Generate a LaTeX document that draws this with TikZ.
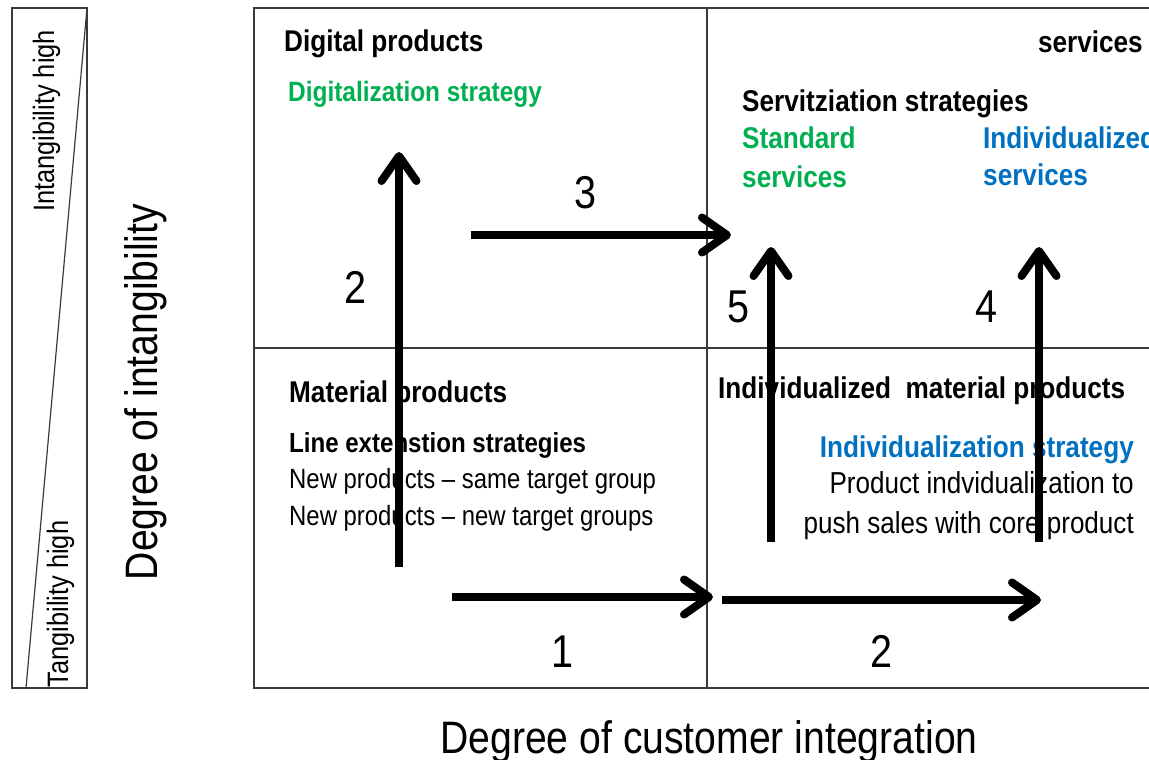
\documentclass[tikz,border=0pt]{standalone}
\usepackage{fontspec}
\setmainfont[FakeStretch=0.86, BoldFeatures={FakeStretch=0.872}]{Liberation Sans}
\usetikzlibrary{arrows.meta}
\definecolor{stratgreen}{HTML}{00B050}
\definecolor{stratblue}{HTML}{0070C0}
\definecolor{framecol}{HTML}{3A3A3A}
\tikzset{
  lbl/.style={inner sep=0pt, anchor=base west},
  lble/.style={inner sep=0pt, anchor=base east},
  head/.style={font=\fontsize{30}{36}\selectfont\bfseries},
  headsm/.style={font=\fontsize{27.6}{33}\selectfont\bfseries},
  bodysm/.style={font=\fontsize{27.8}{33}\selectfont},
  bodyla/.style={font=\fontsize{30.3}{36}\selectfont},
  num/.style={inner sep=0pt, anchor=base, font=\fontsize{46}{50}\selectfont},
  axis/.style={inner sep=0pt, anchor=base, font=\fontsize{45.5}{50}\selectfont},
  barlbl/.style={inner sep=0pt, anchor=base, rotate=90, font=\fontsize{29.5}{34}\selectfont},
  frameline/.style={draw=framecol, line width=1.5pt},
  flow/.style={line width=8pt, -{Straight Barb[length=25pt, width=35pt, line cap=round, line join=round]}}
}
\begin{document}
\begin{tikzpicture}[x=1pt, y=-1pt]
\useasboundingbox (0,0) rectangle (1149,760);
% left bar
\draw[frameline] (12,8) rectangle (87,688);
\coordinate (diagtop) at (87,8);
\coordinate (diagbot) at (26,688);
\draw[frameline, line width=1.2pt] (diagtop) -- (diagbot);
\node[barlbl] (inthigh) at (54,121) {Intangibility high};
\node[barlbl] (tanhigh) at (68,604) {Tangibility high};
% axis titles
\node[axis, rotate=90] (yaxis) at (157,392) {Degree of intangibility};
\node[axis] (xaxis) at (709,753) {Degree of customer integration};
% matrix frame
\draw[frameline] (1149,8) -- (254,8) -- (254,688) -- (1149,688);
\draw[frameline] (707,8) -- (707,688);
\draw[frameline] (254,348) -- (1149,348);
% top-left quadrant
\node[lbl, head] (digprod) at (284,52) {Digital products};
\node[lbl, font=\fontsize{28}{33}\selectfont\bfseries, text=stratgreen] (digstrat) at (288,101) {Digitalization strategy};
% top-right quadrant
\node[lble, head] (serv) at (1143,53) {services};
\node[lbl, head] (servstrat) at (742,111) {Servitziation strategies};
\node[lbl, head, text=stratgreen] (std1) at (742,148) {Standard};
\node[lbl, head, text=stratgreen] (std2) at (742,187) {services};
\node[lbl, head, text=stratblue] (ind1) at (983,148) {Individualized};
\node[lbl, head, text=stratblue] (ind2) at (983,185) {services};
% bottom-left quadrant
\node[lbl, head] (matprod) at (289,402) {Material products};
\node[lbl, headsm] (linext) at (289,452) {Line extenstion strategies};
\node[lbl, bodysm] (np1) at (289,488) {New products – same target group};
\node[lbl, bodysm] (np2) at (289,525) {New products – new target groups};
% bottom-right quadrant
\node[lbl, head] (indmat) at (718,398) {Individualized\ \ material products};
\node[lble, head, text=stratblue] (indstrat) at (1134,457) {Individualization strategy};
\node[lble, bodyla] (pi1) at (1134,493) {Product indvidualization to};
\node[lble, bodyla] (pi2) at (1134,533) {push sales with core product};
% arrows
\coordinate (u2s) at (399,567); \coordinate (u2e) at (399,152);
\coordinate (r3s) at (471,235); \coordinate (r3e) at (731,235);
\coordinate (u5s) at (771,542); \coordinate (u5e) at (771,247);
\coordinate (u4s) at (1039,542); \coordinate (u4e) at (1039,247);
\coordinate (r1s) at (452,597); \coordinate (r1e) at (713,597);
\coordinate (r2s) at (722,600); \coordinate (r2e) at (1041,600);
\draw[flow] (u2s) -- (u2e);
\draw[flow] (r3s) -- (r3e);
\draw[flow] (u5s) -- (u5e);
\draw[flow] (u4s) -- (u4e);
\draw[flow] (r1s) -- (r1e);
\draw[flow] (r2s) -- (r2e);
% numbers
\node[num] (n3) at (585,208) {3};
\node[num] (n2a) at (355,303) {2};
\node[num] (n5) at (738,322) {5};
\node[num] (n4) at (986,322) {4};
\node[num] (n1) at (562,667) {1};
\node[num] (n2b) at (881,667) {2};
\end{tikzpicture}
\end{document}
